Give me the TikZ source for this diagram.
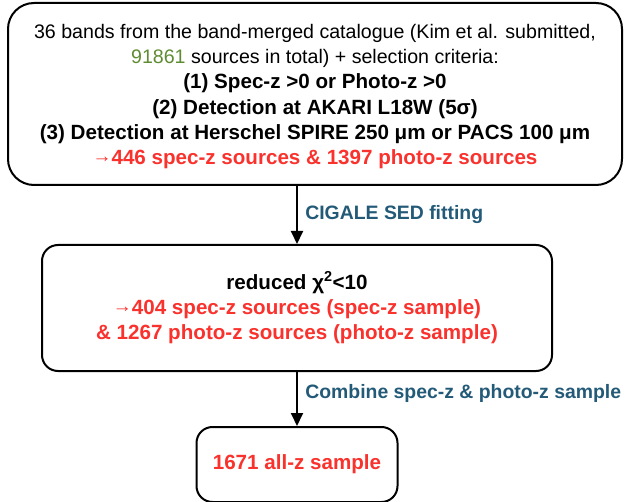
\documentclass[tikz,border=0pt]{standalone}
\usepackage{fontspec}
\setmainfont{Liberation Sans}
\usetikzlibrary{arrows.meta, positioning}
\definecolor{numgreen}{RGB}{95,140,50}
\definecolor{resred}{RGB}{250,50,45}
\definecolor{steplabel}{RGB}{35,90,120}
\newcommand{\smallarr}{\raisebox{2pt}{\mdseries\fontsize{19}{19}\selectfont →}}
\newcommand{\bigbf}[1]{{\bfseries\fontsize{20.6}{25.2}\selectfont #1}}

\begin{document}
\begin{tikzpicture}[x=1pt, y=1pt, node distance=58pt,
    stage/.style={draw, line width=2pt, rounded corners=16pt, align=center, inner sep=0pt, font=\fontsize{19.6}{25.2}\selectfont},
    flow/.style={-{Triangle[length=13pt,width=12pt]}, line width=2pt},
    steptext/.style={right=4pt, font=\bfseries\fontsize{19.4}{22}\selectfont, text=steplabel}]
    \useasboundingbox (0,0) rectangle (626,-502);
    \node[stage, rounded corners=26pt, minimum width=614pt, minimum height=182pt] (catalogue) at (315,-94)
        {\\[-6pt]36 bands from the band-merged catalogue (Kim et al. submitted,\\
         \textcolor{numgreen}{91861} sources in total) + selection criteria:\\
         \bigbf{(1) Spec-z >0 or Photo-z >0}\\
         \bigbf{(2) Detection at AKARI L18W (5σ)}\\
         \bigbf{(3) Detection at Herschel SPIRE 250 μm or PACS 100 μm}\\
         \textcolor{resred}{\smallarr\bigbf{446 spec-z sources \& 1397 photo-z sources}}};
    \node[stage, minimum width=510pt, minimum height=126pt, below=58pt of catalogue, xshift=-18pt] (chisq)
        {\bigbf{reduced χ\textsuperscript{2}<10}\\
         \textcolor{resred}{\smallarr\bigbf{404 spec-z sources (spec-z sample)}}\\
         \textcolor{resred}{\bigbf{\& 1267 photo-z sources (photo-z sample)}}};
    \node[stage, minimum width=201pt, minimum height=75pt, below=54pt of chisq] (allz)
        {\textcolor{resred}{\bigbf{1671 all-z sample}}};
    \draw[flow] (catalogue.south -| chisq.north) -- (chisq.north)
        node[steptext, midway] {CIGALE SED fitting};
    \draw[flow] (chisq) -- (allz)
        node[steptext, midway, yshift=6pt] {Combine spec-z \& photo-z sample};
\end{tikzpicture}
\end{document}
